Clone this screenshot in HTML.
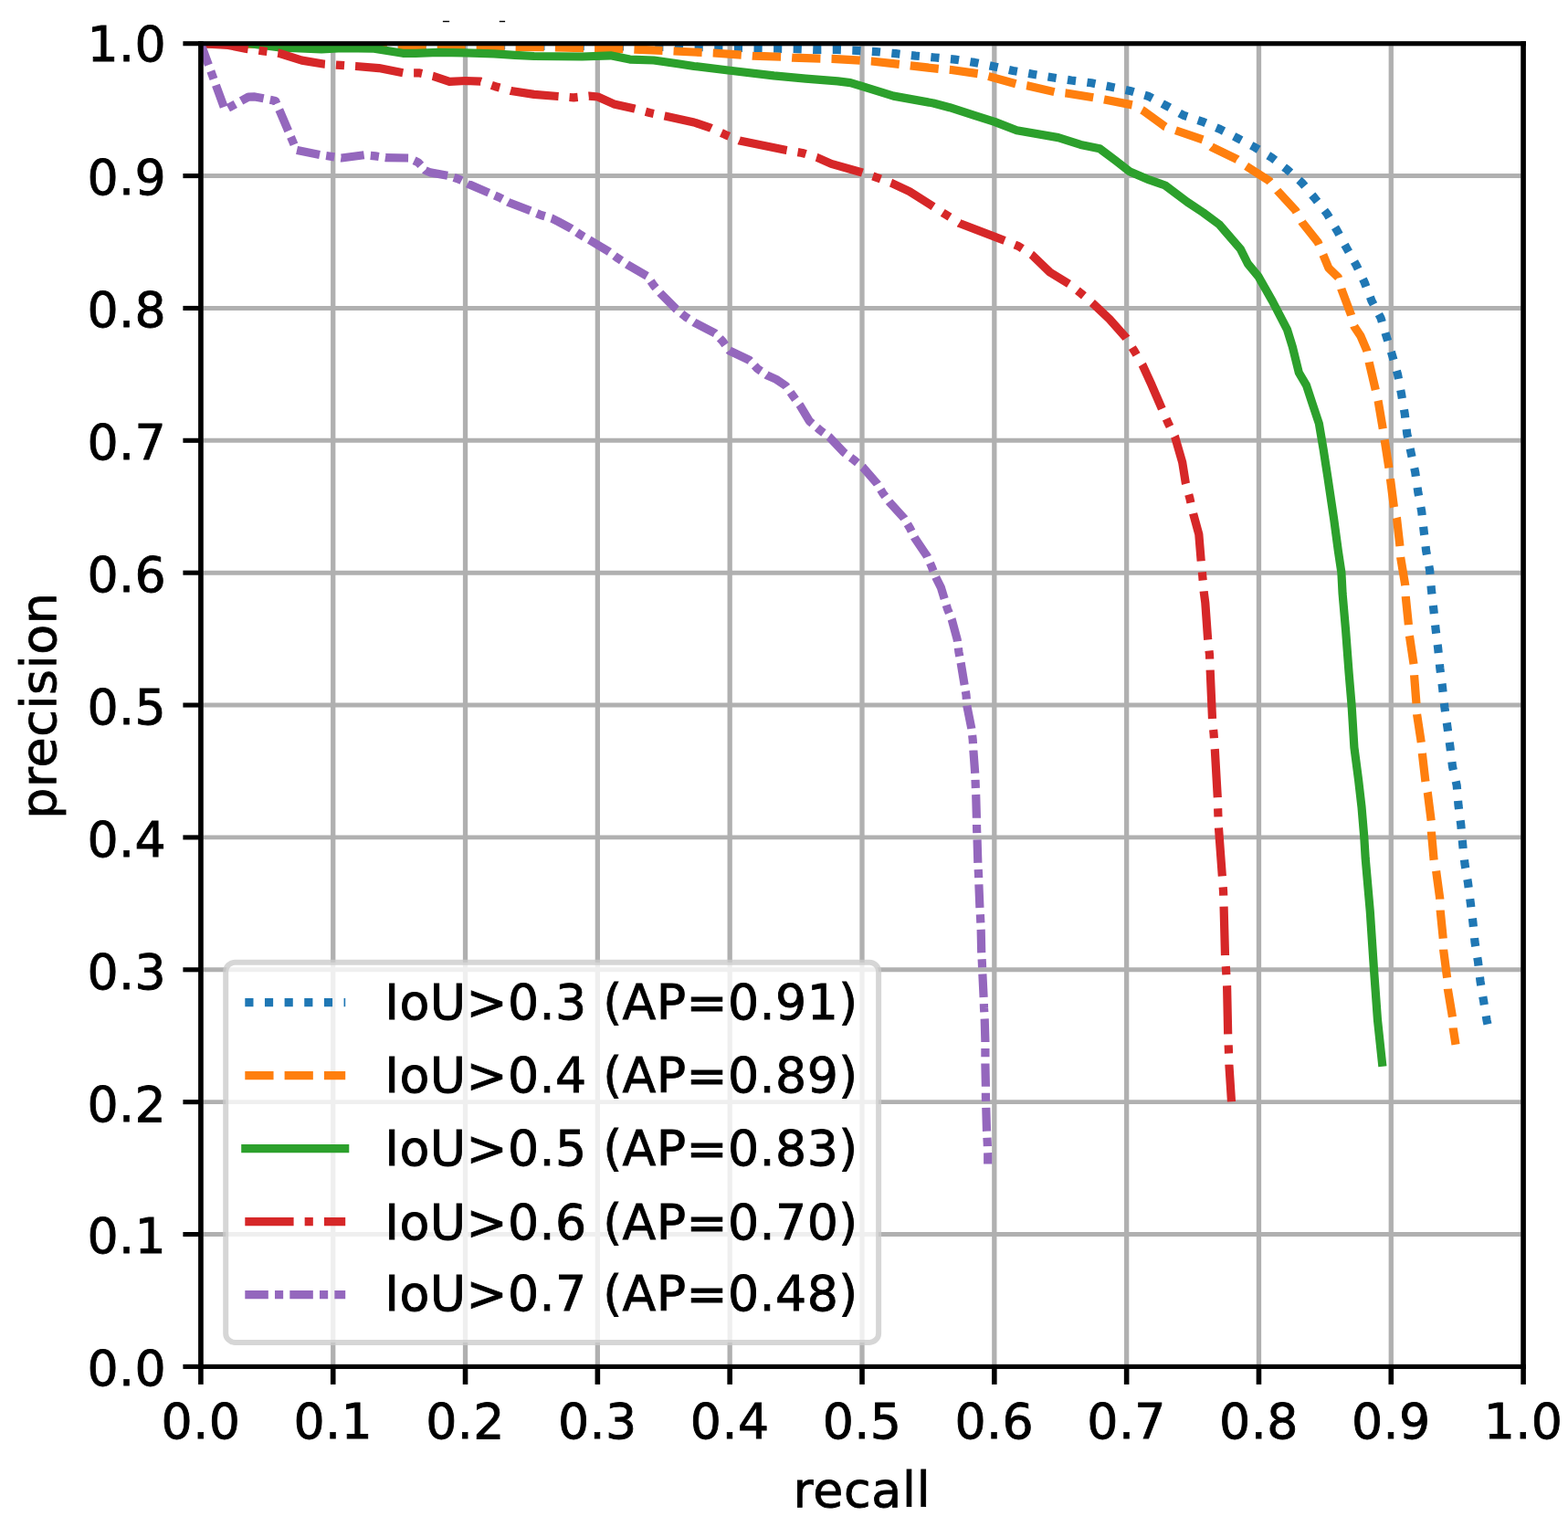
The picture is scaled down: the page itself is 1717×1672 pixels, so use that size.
<!DOCTYPE html>
<html lang="en">
<head>
<meta charset="utf-8">
<title>Precision-recall curves</title>
<style>
html,body{margin:0;padding:0;background:#fff;}
body{width:1717px;height:1672px;overflow:hidden;}
svg{display:block;}
svg text{font-family:"DejaVu Sans","Liberation Sans",sans-serif;font-size:53.75px;fill:#000;stroke:#000;stroke-width:0.85px;letter-spacing:0.40px;}
</style>
</head>
<body>
<svg width="1717" height="1672" viewBox="0 0 1717 1672">
<defs><clipPath id="ax"><rect x="219.90" y="47.70" width="1448.20" height="1448.70"/></clipPath></defs>
<rect x="0" y="0" width="1717" height="1672" fill="#fff"/>
<g id="artifacts" fill="#000"><rect x="484.9" y="22.8" width="7.2" height="1.4"/><rect x="546.8" y="22.8" width="6.3" height="1.4"/></g>
<g id="grid" stroke="#b0b0b0" fill="none" clip-path="url(#ax)">
<line x1="219.90" y1="47.70" x2="219.90" y2="1496.40" stroke-width="5.30"/>
<line x1="364.72" y1="47.70" x2="364.72" y2="1496.40" stroke-width="5.30"/>
<line x1="509.54" y1="47.70" x2="509.54" y2="1496.40" stroke-width="5.30"/>
<line x1="654.36" y1="47.70" x2="654.36" y2="1496.40" stroke-width="5.30"/>
<line x1="799.18" y1="47.70" x2="799.18" y2="1496.40" stroke-width="5.30"/>
<line x1="944.00" y1="47.70" x2="944.00" y2="1496.40" stroke-width="5.30"/>
<line x1="1088.82" y1="47.70" x2="1088.82" y2="1496.40" stroke-width="5.30"/>
<line x1="1233.64" y1="47.70" x2="1233.64" y2="1496.40" stroke-width="5.30"/>
<line x1="1378.46" y1="47.70" x2="1378.46" y2="1496.40" stroke-width="5.30"/>
<line x1="1523.28" y1="47.70" x2="1523.28" y2="1496.40" stroke-width="5.30"/>
<line x1="1668.10" y1="47.70" x2="1668.10" y2="1496.40" stroke-width="5.30"/>
<line x1="219.90" y1="1496.40" x2="1668.10" y2="1496.40" stroke-width="4.90"/>
<line x1="219.90" y1="1351.53" x2="1668.10" y2="1351.53" stroke-width="4.90"/>
<line x1="219.90" y1="1206.66" x2="1668.10" y2="1206.66" stroke-width="4.90"/>
<line x1="219.90" y1="1061.79" x2="1668.10" y2="1061.79" stroke-width="4.90"/>
<line x1="219.90" y1="916.92" x2="1668.10" y2="916.92" stroke-width="4.90"/>
<line x1="219.90" y1="772.05" x2="1668.10" y2="772.05" stroke-width="4.90"/>
<line x1="219.90" y1="627.18" x2="1668.10" y2="627.18" stroke-width="4.90"/>
<line x1="219.90" y1="482.31" x2="1668.10" y2="482.31" stroke-width="4.90"/>
<line x1="219.90" y1="337.44" x2="1668.10" y2="337.44" stroke-width="4.90"/>
<line x1="219.90" y1="192.57" x2="1668.10" y2="192.57" stroke-width="4.90"/>
<line x1="219.90" y1="47.70" x2="1668.10" y2="47.70" stroke-width="4.90"/>
</g>
<g id="curves" fill="none" stroke-width="9.20" stroke-linejoin="round" clip-path="url(#ax)">
<g id="iou03" stroke="#1f77b4">
<path d="M219.8 47.7 L300.0 48.3 L440.0 49.3 L520.0 49.8 L600.0 50.3 L700.0 51.1 L754.4 51.5" stroke-dasharray="9.17 12.48" stroke-dashoffset="0.50"/>
<path d="M754.4 51.5 L765.2 51.6 L786.2 52.0 L808.1 52.4 L829.5 52.8 L840.9 53.0" stroke-dasharray="9.16 12.47" stroke-dashoffset="15.40"/>
<path d="M840.9 53.0 L851.7 53.2 L872.7 53.6 L894.5 54.5 L916.4 54.5 L927.1 54.9" stroke-dasharray="9.14 12.42" stroke-dashoffset="15.35"/>
<path d="M927.1 54.9 L937.9 55.3 L959.5 56.6 L981.0 58.7 L1002.5 61.1 L1013.1 62.0" stroke-dasharray="9.15 12.44" stroke-dashoffset="15.37"/>
<path d="M1013.1 62.0 L1023.9 63.0 L1045.7 65.1 L1067.1 68.4 L1088.1 72.8 L1098.8 75.2" stroke-dasharray="9.19 12.51" stroke-dashoffset="15.45"/>
<path d="M1098.8 75.2 L1109.4 77.5 L1130.9 81.2 L1151.8 84.7 L1173.1 88.0 L1184.3 89.4" stroke-dasharray="9.17 12.49" stroke-dashoffset="15.42"/>
<path d="M1184.3 89.4 L1195.0 90.8 L1216.0 95.0 L1237.1 99.4 L1257.9 105.5 L1267.3 110.5" stroke-dasharray="9.12 12.40" stroke-dashoffset="15.32"/>
<path d="M1267.3 110.5 L1276.8 115.6 L1295.6 126.1 L1316.4 133.1 L1336.1 141.5 L1345.6 146.4" stroke-dasharray="9.15 12.44" stroke-dashoffset="15.37"/>
<path d="M1345.6 146.4 L1355.2 151.3 L1374.1 161.3 L1392.7 172.7 L1409.5 185.7 L1417.7 193.0" stroke-dasharray="9.14 12.43" stroke-dashoffset="15.35"/>
<path d="M1417.7 193.0 L1425.8 200.2 L1439.3 216.5 L1453.1 234.0 L1464.2 252.6 L1469.6 262.6" stroke-dasharray="9.22 12.56" stroke-dashoffset="15.49"/>
<path d="M1469.6 262.6 L1474.7 271.9 L1485.1 290.2 L1494.1 309.0 L1502.0 329.5 L1506.9 338.6" stroke-dasharray="9.02 12.23" stroke-dashoffset="15.13"/>
<path d="M1506.9 338.6 L1512.0 348.1 L1518.5 369.5 L1524.8 390.0 L1530.6 410.3 L1532.6 421.0" stroke-dasharray="9.18 12.49" stroke-dashoffset="15.43"/>
<path d="M1532.6 421.0 L1534.6 431.7 L1538.3 453.4 L1540.7 474.8 L1545.1 495.8 L1547.4 506.4" stroke-dasharray="9.18 12.50" stroke-dashoffset="15.43"/>
<path d="M1547.4 506.4 L1549.7 517.0 L1552.8 538.9 L1556.7 559.8 L1559.1 581.0 L1560.4 592.1" stroke-dasharray="9.18 12.50" stroke-dashoffset="15.44"/>
<path d="M1560.4 592.1 L1561.6 602.9 L1565.6 624.1 L1567.4 645.6 L1569.8 667.0 L1571.0 678.4" stroke-dasharray="9.20 12.53" stroke-dashoffset="15.46"/>
<path d="M1571.0 678.4 L1572.1 689.1 L1574.7 710.1 L1576.8 731.5 L1579.6 753.2 L1580.7 763.9" stroke-dasharray="9.12 12.40" stroke-dashoffset="15.32"/>
<path d="M1580.7 763.9 L1581.9 774.6 L1584.9 795.8 L1587.9 817.7 L1590.5 839.4 L1592.8 849.3" stroke-dasharray="9.15 12.45" stroke-dashoffset="15.38"/>
<path d="M1592.8 849.3 L1595.2 859.9 L1597.0 881.8 L1599.8 903.4 L1601.7 924.9 L1602.8 935.4" stroke-dasharray="9.18 12.49" stroke-dashoffset="15.42"/>
<path d="M1602.8 935.4 L1604.0 946.1 L1607.5 966.8 L1610.3 988.9 L1612.9 1009.9 L1614.0 1020.9" stroke-dasharray="9.14 12.42" stroke-dashoffset="15.35"/>
<path d="M1614.0 1020.9 L1615.0 1031.6 L1618.5 1053.0 L1621.0 1074.4 L1624.5 1095.6 L1626.3 1106.3" stroke-dasharray="9.15 12.45" stroke-dashoffset="15.38"/>
<path d="M1626.3 1106.3 L1628.0 1117.0 L1629.2 1122.4" stroke-dasharray="9.17 12.48" stroke-dashoffset="15.41"/>
</g>
<g id="iou04" stroke="#ff7f0e">
<path d="M219.8 47.7 L300.0 48.6 L400.0 49.8 L429.8 50.1" stroke-dasharray="31.23 12.07" stroke-dashoffset="0.50"/>
<path d="M429.8 50.1 L436.3 50.2 L467.2 50.5 L479.6 50.6 L510.6 50.9 L521.9 51.0 L553.0 51.3 L558.6 51.3" stroke-dasharray="30.97 11.96" stroke-dashoffset="36.95"/>
<path d="M558.6 51.3 L565.1 51.4 L595.8 51.7 L608.4 52.0 L639.9 52.6 L652.1 52.8 L683.0 53.6 L688.4 53.8" stroke-dasharray="31.21 12.06" stroke-dashoffset="37.25"/>
<path d="M688.4 53.8 L694.9 54.1 L726.0 55.4 L738.3 56.0 L769.2 57.5 L781.0 58.0 L812.4 60.1 L817.8 60.6" stroke-dasharray="31.16 12.04" stroke-dashoffset="37.18"/>
<path d="M817.8 60.6 L824.3 61.1 L855.8 62.3 L868.0 63.2 L898.9 64.1 L911.1 64.4 L942.3 66.2 L947.8 66.6" stroke-dasharray="31.29 12.10" stroke-dashoffset="37.34"/>
<path d="M947.8 66.6 L954.3 67.0 L985.4 70.5 L997.1 71.9 L1028.2 75.4 L1040.1 76.3 L1071.5 80.7 L1076.5 82.0" stroke-dasharray="31.18 12.05" stroke-dashoffset="37.20"/>
<path d="M1076.5 82.0 L1082.8 83.6 L1113.4 92.0 L1124.7 93.8 L1155.3 100.8 L1167.6 102.0 L1198.1 106.9 L1203.0 107.8" stroke-dasharray="31.11 12.02" stroke-dashoffset="37.12"/>
<path d="M1203.0 107.8 L1209.5 109.0 L1241.0 115.1 L1251.4 120.9 L1275.9 138.7 L1287.2 142.7 L1317.8 153.2 L1321.8 156.7" stroke-dasharray="31.37 12.13" stroke-dashoffset="37.44"/>
<path d="M1321.8 156.7 L1326.8 161.0 L1354.7 174.5 L1364.1 181.5 L1389.7 197.8 L1399.0 209.0 L1418.8 230.5 L1422.7 237.6" stroke-dasharray="31.59 12.23" stroke-dashoffset="37.70"/>
<path d="M1422.7 237.6 L1425.8 243.3 L1443.3 265.4 L1449.1 279.4 L1454.9 293.4 L1465.4 303.8 L1468.9 316.7 L1479.4 344.6 L1481.2 351.1" stroke-dasharray="31.19 12.05" stroke-dashoffset="37.21"/>
<path d="M1481.2 351.1 L1482.9 357.4 L1489.9 367.9 L1496.9 384.2 L1499.2 396.8 L1506.2 426.6 L1509.2 439.4 L1514.3 469.7 L1515.2 475.5" stroke-dasharray="31.27 12.09" stroke-dashoffset="37.32"/>
<path d="M1515.2 475.5 L1516.2 482.0 L1520.9 512.3 L1522.5 524.9 L1526.4 555.2 L1529.5 567.5 L1533.0 598.5 L1533.3 604.1" stroke-dasharray="31.23 12.07" stroke-dashoffset="37.27"/>
<path d="M1533.3 604.1 L1533.7 610.6 L1538.8 640.9 L1539.3 653.7 L1542.3 683.3 L1543.4 696.1 L1548.1 727.6 L1548.3 733.2" stroke-dasharray="31.27 12.09" stroke-dashoffset="37.32"/>
<path d="M1548.3 733.2 L1548.6 739.7 L1550.9 769.5 L1551.6 782.3 L1556.3 813.1 L1557.4 825.4 L1560.9 855.7 L1562.0 861.6" stroke-dasharray="31.08 12.01" stroke-dashoffset="37.08"/>
<path d="M1562.0 861.6 L1563.3 868.0 L1567.2 898.8 L1567.4 911.1 L1570.2 942.4 L1572.6 953.5 L1576.8 984.3 L1577.0 990.6" stroke-dasharray="31.26 12.08" stroke-dashoffset="37.30"/>
<path d="M1577.0 990.6 L1577.2 997.1 L1580.3 1028.1 L1580.7 1040.6 L1584.7 1071.2 L1585.4 1083.3 L1590.5 1113.6 L1590.8 1119.4" stroke-dasharray="31.18 12.05" stroke-dashoffset="37.20"/>
<path d="M1590.8 1119.4 L1591.2 1125.9 L1594.0 1143.8" stroke-dasharray="31.23 12.07" stroke-dashoffset="37.26"/>
</g>
<g id="iou05" stroke="#2ca02c">
<path d="M219.8 47.7 L273.4 47.7 L304.8 51.8 L352.0 53.9 L374.7 52.7 L409.7 53.2 L441.1 58.3 L455.1 58.3 L480.0 57.3 L509.7 57.8 L541.2 58.8 L563.9 60.4 L584.8 61.5 L637.3 62.0 L668.7 60.8 L689.7 65.1 L715.9 66.0 L742.1 69.8 L760.0 72.5 L799.5 77.2 L847.4 82.9 L882.3 86.1 L917.3 88.9 L931.2 90.6 L944.5 94.7 L978.4 105.1 L1022.1 113.0 L1040.0 117.7 L1066.2 126.1 L1089.1 133.4 L1113.4 142.7 L1158.8 150.6 L1183.3 158.4 L1204.2 162.8 L1221.7 175.9 L1237.4 188.1 L1258.4 196.9 L1275.9 203.0 L1300.0 221.1 L1317.5 232.8 L1334.9 245.6 L1358.2 272.4 L1366.4 288.7 L1378.0 302.7 L1393.2 329.5 L1409.5 360.9 L1415.3 379.6 L1422.3 408.0 L1430.5 421.9 L1437.4 442.9 L1444.4 463.9 L1449.1 491.8 L1453.8 522.1 L1460.7 568.7 L1465.4 603.6 L1468.9 626.9 L1470.1 650.2 L1473.6 690.3 L1477.1 736.9 L1480.1 772.5 L1482.9 818.4 L1487.5 853.4 L1491.0 883.6 L1493.8 917.0 L1495.2 940.0 L1500.3 998.2 L1504.5 1061.8 L1508.5 1117.1 L1513.9 1167.8" stroke-linecap="butt"/>
</g>
<g id="iou06" stroke="#d62728">
<path d="M219.8 47.7 L250.0 49.5 L269.9 53.4 L288.2 55.9 L298.3 57.2" stroke-dasharray="52.76 11.94 9.09 11.94" stroke-dashoffset="0.50"/>
<path d="M298.3 57.2 L304.8 58.0 L330.5 66.1 L355.5 70.2 L373.0 71.4 L383.1 72.1" stroke-dasharray="53.20 12.05 9.16 12.05" stroke-dashoffset="80.43"/>
<path d="M383.1 72.1 L389.6 72.5 L414.9 74.6 L442.0 79.8 L458.6 79.8 L467.8 81.9" stroke-dasharray="52.72 11.93 9.08 11.93" stroke-dashoffset="79.70"/>
<path d="M467.8 81.9 L474.3 83.3 L492.2 89.4 L509.7 88.5 L526.3 89.1 L542.4 94.7 L553.2 97.7" stroke-dasharray="54.04 12.26 9.29 12.26" stroke-dashoffset="81.72"/>
<path d="M553.2 97.7 L559.5 99.5 L584.8 103.4 L611.0 105.5 L628.2 106.9 L638.6 105.8" stroke-dasharray="53.01 12.00 9.13 12.00" stroke-dashoffset="80.13"/>
<path d="M638.6 105.8 L645.1 105.1 L654.7 106.0 L672.2 113.9 L694.9 119.1 L711.5 123.5 L721.7 125.7" stroke-dasharray="53.09 12.02 9.14 12.02" stroke-dashoffset="80.26"/>
<path d="M721.7 125.7 L728.1 127.0 L760.0 134.0 L778.3 140.1 L794.1 147.4 L803.8 151.5" stroke-dasharray="53.18 12.05 9.15 12.05" stroke-dashoffset="80.40"/>
<path d="M803.8 151.5 L809.8 154.1 L861.3 164.5 L878.5 167.5 L888.3 170.5" stroke-dasharray="53.37 12.09 9.18 12.09" stroke-dashoffset="80.69"/>
<path d="M888.3 170.5 L894.5 172.4 L910.3 179.4 L944.3 189.0 L960.6 194.6 L969.9 198.0" stroke-dasharray="53.14 12.04 9.15 12.04" stroke-dashoffset="80.34"/>
<path d="M969.9 198.0 L976.1 200.3 L995.9 209.6 L1021.5 225.9 L1036.0 235.2 L1045.2 241.0" stroke-dasharray="53.43 12.11 9.19 12.11" stroke-dashoffset="80.79"/>
<path d="M1045.2 241.0 L1050.7 244.5 L1099.6 263.2 L1115.2 269.5 L1124.5 275.5" stroke-dasharray="53.34 12.08 9.18 12.08" stroke-dashoffset="80.64"/>
<path d="M1124.5 275.5 L1129.9 279.0 L1149.7 298.1 L1170.6 310.9 L1183.9 321.4 L1191.3 327.6" stroke-dasharray="52.45 11.86 9.04 11.86" stroke-dashoffset="79.28"/>
<path d="M1191.3 327.6 L1196.3 331.9 L1214.9 349.4 L1233.1 369.9 L1242.4 384.8 L1247.7 393.9" stroke-dasharray="53.86 12.21 9.26 12.21" stroke-dashoffset="81.44"/>
<path d="M1247.7 393.9 L1251.0 399.5 L1260.4 420.0 L1272.0 446.8 L1279.0 462.9 L1283.7 472.3" stroke-dasharray="53.16 12.04 9.15 12.04" stroke-dashoffset="80.37"/>
<path d="M1283.7 472.3 L1286.6 478.2 L1294.7 506.2 L1298.2 528.3 L1302.9 545.8 L1305.3 556.5" stroke-dasharray="53.57 12.14 9.21 12.14" stroke-dashoffset="80.99"/>
<path d="M1305.3 556.5 L1306.7 562.8 L1312.8 585.0 L1315.1 613.0 L1316.8 631.1 L1317.7 641.4" stroke-dasharray="53.02 12.00 9.13 12.00" stroke-dashoffset="80.15"/>
<path d="M1317.7 641.4 L1318.2 647.9 L1319.8 660.0 L1322.6 699.6 L1324.5 717.1 L1324.9 727.6" stroke-dasharray="53.24 12.06 9.16 12.06" stroke-dashoffset="80.49"/>
<path d="M1324.9 727.6 L1325.2 734.1 L1327.5 787.0 L1329.1 803.7 L1329.8 814.2" stroke-dasharray="53.39 12.10 9.19 12.10" stroke-dashoffset="80.72"/>
<path d="M1329.8 814.2 L1330.3 820.7 L1333.3 873.2 L1333.8 890.6 L1334.2 900.4" stroke-dasharray="53.11 12.03 9.14 12.03" stroke-dashoffset="80.29"/>
<path d="M1334.2 900.4 L1334.5 906.9 L1338.4 960.0 L1339.6 976.6 L1339.9 986.6" stroke-dasharray="53.16 12.04 9.15 12.04" stroke-dashoffset="80.37"/>
<path d="M1339.9 986.6 L1340.1 993.1 L1341.5 1046.0 L1342.6 1062.8 L1343.2 1073.3" stroke-dasharray="53.40 12.10 9.19 12.10" stroke-dashoffset="80.73"/>
<path d="M1343.2 1073.3 L1343.6 1079.8 L1344.7 1132.9 L1345.4 1149.7 L1345.7 1159.5" stroke-dasharray="53.07 12.02 9.14 12.02" stroke-dashoffset="80.23"/>
<path d="M1345.7 1159.5 L1345.9 1166.0 L1348.5 1206.3" stroke-dasharray="53.29 12.07 9.17 12.07" stroke-dashoffset="80.57"/>
</g>
<g id="iou07" stroke="#9467bd">
<path d="M219.8 47.7 L246.3 120.2 L260.9 112.2" stroke-dasharray="25.49 7.16 9.16 7.16" stroke-dashoffset="0.50"/>
<path d="M260.9 112.2 L264.5 110.2 L272.0 106.1 L279.0 105.9 L301.6 110.4 L304.4 116.9" stroke-dasharray="25.85 7.28 9.28 7.28" stroke-dashoffset="46.06"/>
<path d="M304.4 116.9 L306.0 120.6 L323.4 161.5" stroke-dasharray="25.25 7.08 9.08 7.08" stroke-dashoffset="44.97"/>
<path d="M323.4 161.5 L324.6 164.4 L325.5 164.6 L350.1 169.5 L369.8 172.4" stroke-dasharray="25.52 7.17 9.17 7.17" stroke-dashoffset="45.45"/>
<path d="M369.8 172.4 L373.8 173.0 L399.0 169.7 L411.0 170.9 L418.4 172.0" stroke-dasharray="25.50 7.17 9.17 7.17" stroke-dashoffset="45.42"/>
<path d="M418.4 172.0 L422.4 172.6 L447.8 173.0 L458.0 177.9 L463.1 183.5" stroke-dasharray="25.20 7.07 9.07 7.07" stroke-dashoffset="44.87"/>
<path d="M463.1 183.5 L465.8 186.6 L471.1 188.9 L491.4 192.4 L502.3 196.1 L508.8 199.4" stroke-dasharray="25.60 7.20 9.20 7.20" stroke-dashoffset="45.60"/>
<path d="M508.8 199.4 L512.4 201.2 L536.3 211.6 L547.0 216.3 L553.0 219.5" stroke-dasharray="25.38 7.13 9.13 7.13" stroke-dashoffset="45.19"/>
<path d="M553.0 219.5 L556.7 221.5 L581.1 230.9 L592.4 235.5 L600.5 237.9" stroke-dasharray="26.39 7.46 9.46 7.46" stroke-dashoffset="47.05"/>
<path d="M600.5 237.9 L604.3 239.1 L611.3 242.6 L625.2 250.1 L635.7 257.1 L642.1 260.8" stroke-dasharray="24.90 6.97 8.97 6.97" stroke-dashoffset="44.32"/>
<path d="M642.1 260.8 L645.7 262.9 L667.2 275.7 L676.5 282.7 L683.6 287.4" stroke-dasharray="25.64 7.21 9.21 7.21" stroke-dashoffset="45.67"/>
<path d="M683.6 287.4 L687.0 289.7 L709.1 302.5 L715.6 312.3 L720.4 318.0" stroke-dasharray="25.43 7.14 9.14 7.14" stroke-dashoffset="45.29"/>
<path d="M720.4 318.0 L723.1 321.1 L740.5 338.6 L750.6 346.8 L756.8 350.9" stroke-dasharray="25.65 7.22 9.22 7.22" stroke-dashoffset="45.70"/>
<path d="M756.8 350.9 L760.3 353.2 L783.0 364.8 L791.3 373.6 L796.4 380.7" stroke-dasharray="26.21 7.40 9.40 7.40" stroke-dashoffset="46.71"/>
<path d="M796.4 380.7 L798.8 384.0 L820.9 394.5 L829.5 403.8 L836.2 408.4" stroke-dasharray="25.71 7.24 9.24 7.24" stroke-dashoffset="45.80"/>
<path d="M836.2 408.4 L839.6 410.8 L850.0 415.4 L860.5 422.5 L868.0 433.0 L873.3 440.2" stroke-dasharray="25.95 7.32 9.32 7.32" stroke-dashoffset="46.23"/>
<path d="M873.3 440.2 L875.7 443.4 L886.2 460.9 L897.8 470.9 L904.6 475.9" stroke-dasharray="25.19 7.06 9.06 7.06" stroke-dashoffset="44.85"/>
<path d="M904.6 475.9 L908.0 478.4 L924.1 495.4 L934.5 503.1 L941.9 509.2" stroke-dasharray="25.96 7.32 9.32 7.32" stroke-dashoffset="46.27"/>
<path d="M941.9 509.2 L945.0 511.7 L960.2 529.2 L966.5 539.7 L971.4 546.4" stroke-dasharray="24.86 6.95 8.95 6.95" stroke-dashoffset="44.25"/>
<path d="M971.4 546.4 L973.8 549.6 L989.6 567.0 L996.3 578.1 L999.6 584.9" stroke-dasharray="25.07 7.02 9.02 7.02" stroke-dashoffset="44.63"/>
<path d="M999.6 584.9 L1001.4 588.6 L1015.3 609.1 L1020.3 620.8 L1023.4 628.6" stroke-dasharray="25.99 7.33 9.33 7.33" stroke-dashoffset="46.31"/>
<path d="M1023.4 628.6 L1024.9 632.4 L1030.4 643.4 L1033.6 653.8 L1037.5 666.7 L1040.7 674.5" stroke-dasharray="25.59 7.20 9.20 7.20" stroke-dashoffset="45.57"/>
<path d="M1040.7 674.5 L1042.2 678.3 L1048.2 700.4 L1049.9 713.9 L1051.5 722.2" stroke-dasharray="25.46 7.15 9.15 7.15" stroke-dashoffset="45.34"/>
<path d="M1051.5 722.2 L1052.2 726.1 L1056.1 749.8 L1058.0 761.0 L1058.6 769.0" stroke-dasharray="24.76 6.92 8.92 6.92" stroke-dashoffset="44.05"/>
<path d="M1058.6 769.0 L1058.9 773.1 L1063.8 797.6 L1065.2 809.9 L1065.7 818.0" stroke-dasharray="25.74 7.25 9.25 7.25" stroke-dashoffset="45.86"/>
<path d="M1065.7 818.0 L1065.9 822.0 L1067.7 846.5 L1068.2 858.6 L1068.5 866.4" stroke-dasharray="25.29 7.10 9.10 7.10" stroke-dashoffset="45.04"/>
<path d="M1068.5 866.4 L1068.7 870.5 L1069.4 895.4 L1069.6 907.5 L1069.9 915.8" stroke-dasharray="25.71 7.24 9.24 7.24" stroke-dashoffset="45.80"/>
<path d="M1069.9 915.8 L1070.1 919.9 L1070.8 944.3 L1071.5 957.1 L1071.8 964.7" stroke-dasharray="25.47 7.16 9.16 7.16" stroke-dashoffset="45.36"/>
<path d="M1071.8 964.7 L1071.9 968.8 L1072.9 993.7 L1073.6 1005.4 L1074.0 1014.2" stroke-dasharray="25.78 7.26 9.26 7.26" stroke-dashoffset="45.93"/>
<path d="M1074.0 1014.2 L1074.2 1018.3 L1074.7 1042.6 L1075.4 1054.7 L1075.7 1063.0" stroke-dasharray="25.42 7.14 9.14 7.14" stroke-dashoffset="45.27"/>
<path d="M1075.7 1063.0 L1075.9 1067.1 L1077.1 1091.5 L1077.5 1103.7 L1078.0 1111.9" stroke-dasharray="25.48 7.16 9.16 7.16" stroke-dashoffset="45.38"/>
<path d="M1078.0 1111.9 L1078.2 1116.0 L1078.9 1140.5 L1078.9 1152.6 L1078.9 1160.9" stroke-dasharray="25.45 7.15 9.15 7.15" stroke-dashoffset="45.33"/>
<path d="M1078.9 1160.9 L1078.9 1164.9 L1079.4 1189.4 L1079.4 1201.5 L1079.7 1209.3" stroke-dasharray="25.26 7.09 9.09 7.09" stroke-dashoffset="44.97"/>
<path d="M1079.7 1209.3 L1079.8 1213.4 L1080.5 1238.3 L1081.2 1250.7 L1081.5 1258.7" stroke-dasharray="25.72 7.24 9.24 7.24" stroke-dashoffset="45.82"/>
<path d="M1081.5 1258.7 L1081.7 1262.8 L1081.7 1274.4" stroke-dasharray="25.51 7.17 9.17 7.17" stroke-dashoffset="45.43"/>
</g>
</g>
<g id="ticks" stroke="#000">
<line x1="219.90" y1="1496.40" x2="219.90" y2="1515.90" stroke-width="5.60"/>
<line x1="219.90" y1="1496.40" x2="200.40" y2="1496.40" stroke-width="5.10"/>
<line x1="364.72" y1="1496.40" x2="364.72" y2="1515.90" stroke-width="5.60"/>
<line x1="219.90" y1="1351.53" x2="200.40" y2="1351.53" stroke-width="5.10"/>
<line x1="509.54" y1="1496.40" x2="509.54" y2="1515.90" stroke-width="5.60"/>
<line x1="219.90" y1="1206.66" x2="200.40" y2="1206.66" stroke-width="5.10"/>
<line x1="654.36" y1="1496.40" x2="654.36" y2="1515.90" stroke-width="5.60"/>
<line x1="219.90" y1="1061.79" x2="200.40" y2="1061.79" stroke-width="5.10"/>
<line x1="799.18" y1="1496.40" x2="799.18" y2="1515.90" stroke-width="5.60"/>
<line x1="219.90" y1="916.92" x2="200.40" y2="916.92" stroke-width="5.10"/>
<line x1="944.00" y1="1496.40" x2="944.00" y2="1515.90" stroke-width="5.60"/>
<line x1="219.90" y1="772.05" x2="200.40" y2="772.05" stroke-width="5.10"/>
<line x1="1088.82" y1="1496.40" x2="1088.82" y2="1515.90" stroke-width="5.60"/>
<line x1="219.90" y1="627.18" x2="200.40" y2="627.18" stroke-width="5.10"/>
<line x1="1233.64" y1="1496.40" x2="1233.64" y2="1515.90" stroke-width="5.60"/>
<line x1="219.90" y1="482.31" x2="200.40" y2="482.31" stroke-width="5.10"/>
<line x1="1378.46" y1="1496.40" x2="1378.46" y2="1515.90" stroke-width="5.60"/>
<line x1="219.90" y1="337.44" x2="200.40" y2="337.44" stroke-width="5.10"/>
<line x1="1523.28" y1="1496.40" x2="1523.28" y2="1515.90" stroke-width="5.60"/>
<line x1="219.90" y1="192.57" x2="200.40" y2="192.57" stroke-width="5.10"/>
<line x1="1668.10" y1="1496.40" x2="1668.10" y2="1515.90" stroke-width="5.60"/>
<line x1="219.90" y1="47.70" x2="200.40" y2="47.70" stroke-width="5.10"/>
</g>
<g id="spines" fill="#000">
<rect x="217.10" y="45.15" width="5.60" height="1453.80"/>
<rect x="1665.30" y="45.15" width="5.60" height="1453.80"/>
<rect x="217.10" y="45.15" width="1453.80" height="5.10"/>
<rect x="217.10" y="1493.85" width="1453.80" height="5.10"/>
</g>
<g id="xticklabels" text-anchor="middle">
<text x="219.90" y="1575.40">0.0</text>
<text x="364.72" y="1575.40">0.1</text>
<text x="509.54" y="1575.40">0.2</text>
<text x="654.36" y="1575.40">0.3</text>
<text x="799.18" y="1575.40">0.4</text>
<text x="944.00" y="1575.40">0.5</text>
<text x="1088.82" y="1575.40">0.6</text>
<text x="1233.64" y="1575.40">0.7</text>
<text x="1378.46" y="1575.40">0.8</text>
<text x="1523.28" y="1575.40">0.9</text>
<text x="1668.10" y="1575.40">1.0</text>
</g>
<g id="yticklabels" text-anchor="end">
<text x="182.20" y="67.30">1.0</text>
<text x="182.20" y="213.47">0.9</text>
<text x="182.20" y="358.34">0.8</text>
<text x="182.20" y="503.21">0.7</text>
<text x="182.20" y="648.08">0.6</text>
<text x="182.20" y="792.95">0.5</text>
<text x="182.20" y="937.82">0.4</text>
<text x="182.20" y="1082.69">0.3</text>
<text x="182.20" y="1227.56">0.2</text>
<text x="182.20" y="1372.43">0.1</text>
<text x="182.20" y="1517.30">0.0</text>
</g>
<text id="xlabel" x="944.00" y="1650.00" text-anchor="middle" style="letter-spacing:0.75px">recall</text>
<text id="ylabel" transform="translate(60.90 772.60) rotate(-90)" text-anchor="middle" style="letter-spacing:0.65px">precision</text>
<g id="legend">
<rect x="247.20" y="1053.80" width="714.90" height="416.10" rx="10.0" ry="10.0" fill="#fff" fill-opacity="0.8" stroke="#ccc" stroke-opacity="0.8" stroke-width="6.00"/>
<line x1="268.30" y1="1097.60" x2="378.20" y2="1097.60" stroke="#1f77b4" stroke-width="9.20" stroke-dasharray="9.17 12.48"/>
<text x="421.30" y="1116.40">IoU&gt;0.3 (AP=0.91)</text>
<line x1="268.30" y1="1177.60" x2="378.20" y2="1177.60" stroke="#ff7f0e" stroke-width="9.20" stroke-dasharray="31.23 12.07"/>
<text x="421.30" y="1196.40">IoU&gt;0.4 (AP=0.89)</text>
<line x1="268.80" y1="1257.60" x2="377.70" y2="1257.60" stroke="#2ca02c" stroke-width="9.20" stroke-linecap="square"/>
<text x="421.30" y="1276.40">IoU&gt;0.5 (AP=0.83)</text>
<line x1="268.30" y1="1337.60" x2="378.20" y2="1337.60" stroke="#d62728" stroke-width="9.20" stroke-dasharray="53.29 12.07 9.17 12.07"/>
<text x="421.30" y="1356.60">IoU&gt;0.6 (AP=0.70)</text>
<line x1="268.30" y1="1417.60" x2="378.20" y2="1417.60" stroke="#9467bd" stroke-width="9.20" stroke-dasharray="25.51 7.17 9.17 7.17"/>
<text x="421.30" y="1435.40">IoU&gt;0.7 (AP=0.48)</text>
</g>
</svg>
</body>
</html>
